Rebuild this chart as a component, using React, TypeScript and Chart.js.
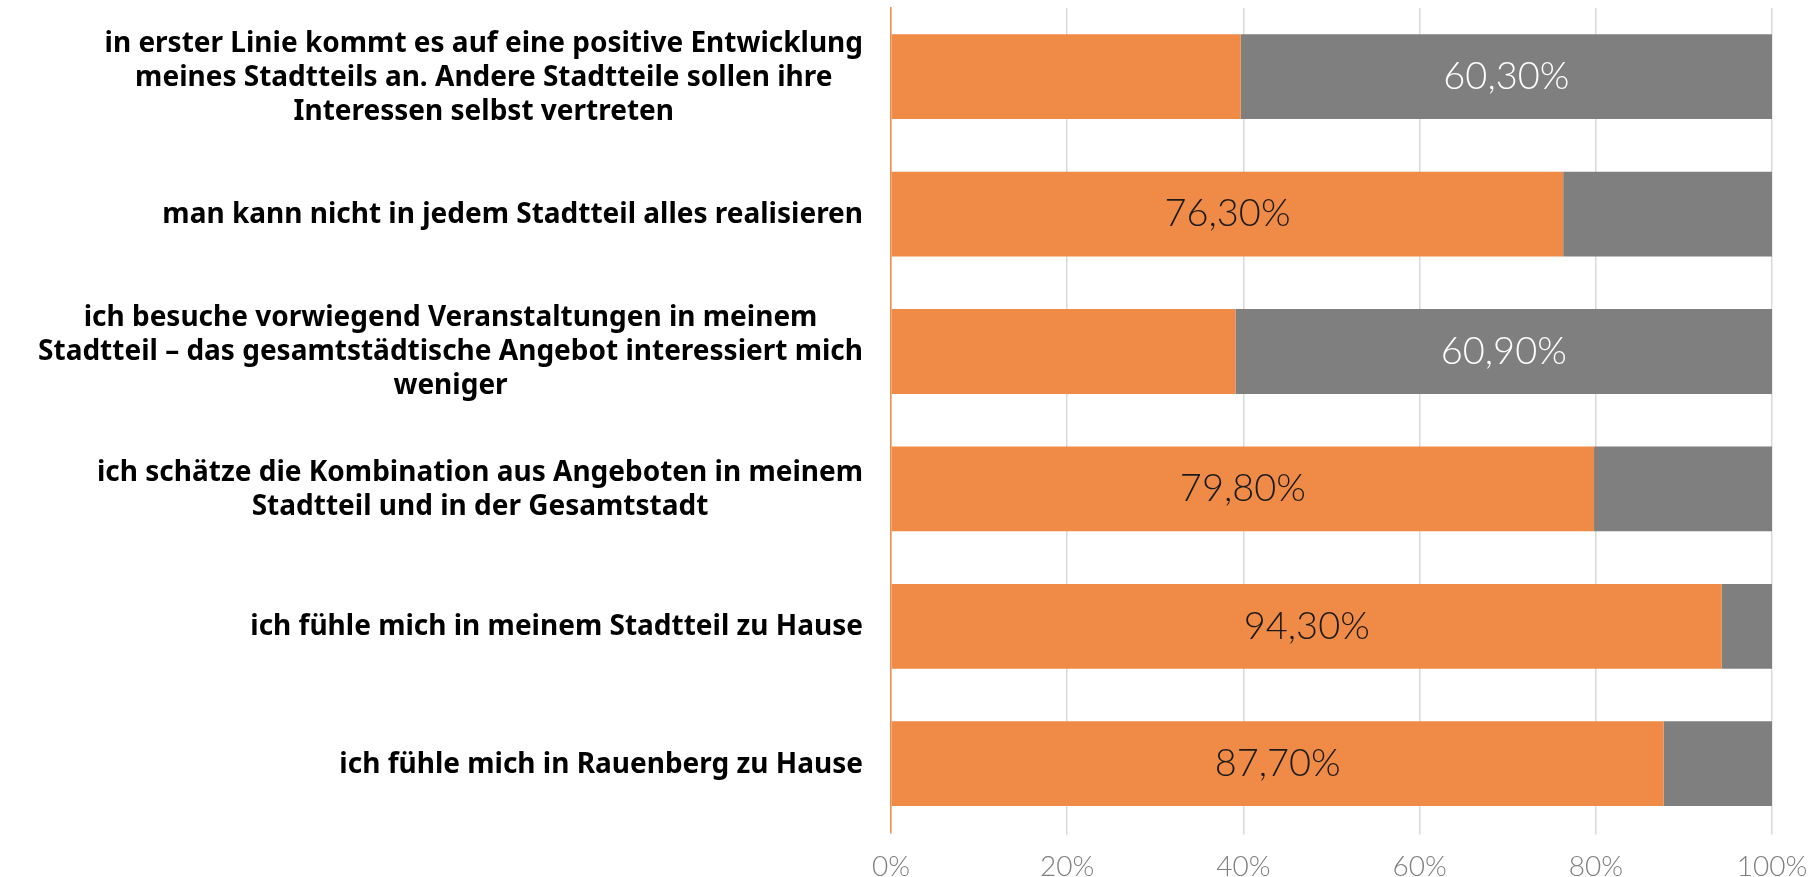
import React, { useEffect, useRef } from "react";
import { Chart, registerables } from "chart.js";

Chart.register(...registerables);

const categories: string[][] = [
  ["in erster Linie kommt es auf eine positive Entwicklung", "meines Stadtteils an. Andere Stadtteile sollen ihre", "Interessen selbst vertreten"],
  ["man kann nicht in jedem Stadtteil alles realisieren"],
  ["ich besuche vorwiegend Veranstaltungen in meinem", "Stadtteil – das gesamtstädtische Angebot interessiert mich", "weniger"],
  ["ich schätze die Kombination aus Angeboten in meinem", "Stadtteil und in der Gesamtstadt"],
  ["ich fühle mich in meinem Stadtteil zu Hause"],
  ["ich fühle mich in Rauenberg zu Hause"],
];

const agreeValues: number[] = [39.7, 76.3, 39.1, 79.8, 94.3, 87.7];
const disagreeValues: number[] = [60.3, 23.7, 60.9, 20.2, 5.7, 12.3];
const xTicks: number[] = [0, 20, 40, 60, 80, 100];

const ORANGE = "#EF8B46";
const GRAY = "#7F7F7F";

const categoryLabelPlugin = {
  id: "categoryLabels",
  afterDraw(chart: any) {
    const { ctx, chartArea } = chart;
    const yScale = chart.scales.y;
    ctx.save();
    ctx.font = "bold 28px 'Noto Sans', Lato, sans-serif";
    ctx.fillStyle = "#000000";
    ctx.textAlign = "center";
    ctx.textBaseline = "middle";
    const lh = 34;
    categories.forEach((lines, i) => {
      const yc = yScale.getPixelForValue(i) + 1;
      const widest = Math.max(...lines.map((l) => ctx.measureText(l).width));
      const right = chartArea.left - 28;
      const cx = right - widest / 2;
      const start = yc - ((lines.length - 1) / 2) * lh;
      lines.forEach((l, j) => ctx.fillText(l, cx, start + j * lh));
    });
    ctx.restore();
  },
};

const valueLabelPlugin = {
  id: "valueLabels",
  afterDatasetsDraw(chart: any) {
    const { ctx } = chart;
    ctx.save();
    ctx.font = "300 38px Lato, 'Noto Sans', sans-serif";
    ctx.textAlign = "center";
    ctx.textBaseline = "middle";
    chart.data.datasets.forEach((ds: any, di: number) => {
      const meta = chart.getDatasetMeta(di);
      meta.data.forEach((el: any, i: number) => {
        const v = ds.data[i] as number;
        if (v < 50) return;
        const cx = (el.x + el.base) / 2;
        ctx.fillStyle = di === 0 ? "#1a1a1a" : "#ffffff";
        ctx.fillText(v.toFixed(2).replace(".", ",") + "%", cx, el.y);
      });
    });
    ctx.restore();
  },
};

export default function App() {
  const ref = useRef<HTMLCanvasElement | null>(null);
  useEffect(() => {
    if (!ref.current) return;
    const chart = new Chart(ref.current, {
      type: "bar",
      data: {
        labels: categories.map((c) => c.join(" ")),
        datasets: [
          { label: "ja", data: agreeValues, backgroundColor: ORANGE, barPercentage: 0.617, categoryPercentage: 1 },
          { label: "nein", data: disagreeValues, backgroundColor: GRAY, barPercentage: 0.617, categoryPercentage: 1 },
        ],
      },
      options: {
        indexAxis: "y",
        animation: false,
        responsive: true,
        maintainAspectRatio: false,
        layout: { autoPadding: false, padding: { left: 883, right: 45, top: 8, bottom: -23 } },
        plugins: { legend: { display: false }, tooltip: { enabled: false } },
        scales: {
          x: {
            stacked: true,
            min: 0,
            max: 100,
            afterBuildTicks: (axis: any) => {
              axis.ticks = xTicks.map((v) => ({ value: v }));
            },
            afterFit: (axis: any) => {
              axis.paddingRight = 0;
              axis.paddingLeft = 0;
            },
            grid: { color: "#D9D9D9", lineWidth: 1.5, tickLength: 2, drawOnChartArea: true },
            border: { display: false },
            ticks: {
              color: "#7F7F7F",
              font: { family: "Lato, 'Noto Sans', sans-serif", size: 28, weight: "300" as any },
              padding: 16,
              callback: (v: any) => v + "%",
            },
          },
          y: {
            stacked: true,
            grid: { display: false },
            border: { display: true, color: ORANGE, width: 1.5 },
            ticks: { display: false },
          },
        },
      },
      plugins: [categoryLabelPlugin, valueLabelPlugin],
    });
    return () => chart.destroy();
  }, []);
  return (
    <div style={{ position: "fixed", left: 0, top: 0, width: 1817, height: 877, background: "#fff" }}>
      <canvas ref={ref} />
    </div>
  );
}
